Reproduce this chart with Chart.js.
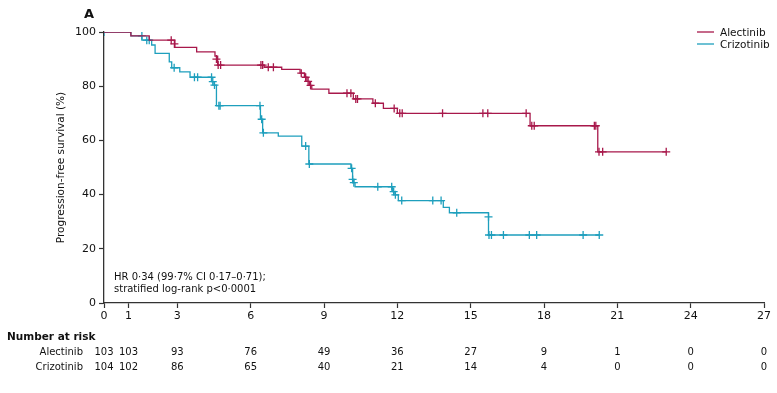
<!DOCTYPE html>
<html>
<head>
<meta charset="utf-8">
<script src="https://cdn.jsdelivr.net/npm/chart.js@4"></script>
<style>
  html, body { margin: 0; padding: 0; background: #fff; }
  #wrap { width: 777px; height: 393px; }
</style>
</head>
<body>
<div id="wrap"><canvas id="myChart" width="777" height="393"></canvas></div>
<script>
// Kaplan-Meier steps (months, % progression-free)
var alectinibTimes = [0, 1.1, 1.85, 2.9, 3.79, 4.54, 4.65, 6.55, 7.27, 8.02, 8.2, 8.3, 8.4, 8.5, 9.2, 10.2, 11.0, 11.43, 12.0, 17.43, 20.2, 23.0];
var alectinibSurv  = [100, 98.6, 97.0, 94.3, 92.7, 91.1, 87.8, 87.0, 86.2, 84.8, 83.3, 81.8, 80.3, 78.9, 77.4, 75.3, 73.7, 71.8, 70.0, 65.4, 55.8, 55.8];

var crizotinibTimes = [0, 1.1, 1.55, 1.95, 2.09, 2.67, 2.77, 3.1, 3.52, 4.4, 4.5, 4.6, 6.4, 6.49, 7.13, 8.09, 8.38, 10.1, 10.17, 10.22, 10.27, 11.8, 11.9, 12.04, 13.88, 14.13, 15.73, 20.26];
var crizotinibSurv  = [100, 98.6, 97.0, 95.2, 92.1, 89.0, 86.8, 85.3, 83.3, 81.7, 80.4, 72.8, 67.8, 62.8, 61.6, 57.9, 51.3, 49.7, 45.6, 44.4, 42.9, 41.1, 39.9, 37.8, 35.3, 33.3, 25.1, 25.1];

// censored observations
var alectinibCensorTimes = [2.75, 2.88, 4.6, 4.67, 4.77, 6.42, 6.49, 6.72, 6.93, 8.07, 8.25, 8.35, 8.45, 9.94, 10.1, 10.3, 10.37, 11.1, 11.87, 12.1, 12.2, 13.85, 15.5, 15.7, 17.27, 17.5, 17.6, 20.06, 20.12, 20.25, 20.4, 23.0];
var alectinibCensorSurv  = [97.0, 95.6, 90.0, 87.8, 87.8, 87.8, 87.8, 87.0, 87.0, 84.8, 83.3, 81.8, 80.3, 77.4, 77.4, 75.3, 75.3, 73.7, 71.8, 70.0, 70.0, 70.0, 70.0, 70.0, 70.0, 65.4, 65.4, 65.4, 65.4, 55.8, 55.8, 55.8];

var crizotinibCensorTimes = [0, 1.55, 1.75, 1.85, 2.87, 3.7, 3.83, 4.4, 4.45, 4.52, 4.7, 4.75, 6.38, 6.45, 6.52, 8.25, 8.4, 10.13, 10.17, 10.22, 11.2, 11.77, 11.85, 11.92, 12.18, 13.45, 13.79, 14.43, 15.73, 15.75, 15.85, 16.34, 17.4, 17.7, 19.6, 20.26];
var crizotinibCensorSurv  = [100, 98.6, 97.0, 97.0, 86.8, 83.3, 83.3, 83.3, 81.7, 80.4, 72.8, 72.8, 72.8, 67.8, 62.8, 57.9, 51.3, 49.7, 45.6, 44.4, 42.9, 42.9, 41.1, 39.9, 37.8, 37.8, 37.8, 33.3, 31.8, 25.1, 25.1, 25.1, 25.1, 25.1, 25.1, 25.1];

// number at risk table
var riskTimes = [0, 1, 3, 6, 9, 12, 15, 18, 21, 24, 27];
var alectinibRisk = [103, 103, 93, 76, 49, 36, 27, 9, 1, 0, 0];
var crizotinibRisk = [104, 102, 86, 65, 40, 21, 14, 4, 0, 0, 0];

var redCol = '#a8184b';
var cyanCol = '#1e9fbd';
var FONT = "'DejaVu Sans', sans-serif";

function pts(xs, ys) {
    var out = [];
    for (var i = 0; i < xs.length; i++) out.push({ x: xs[i], y: ys[i] });
    return out;
}

var extras = {
    id: 'extras',
    afterDraw: function (chart) {
        var ctx = chart.ctx;
        var xs = chart.scales.x;
        ctx.save();
        ctx.fillStyle = '#111';
        ctx.textBaseline = 'alphabetic';

        // panel letter
        ctx.font = 'bold 13px ' + FONT;
        ctx.textAlign = 'center';
        ctx.fillText('A', 89, 18);

        // HR annotation
        ctx.font = '10px ' + FONT;
        ctx.textAlign = 'left';
        ctx.fillText('HR 0·34 (99·7% CI 0·17–0·71);', 114, 279.5);
        ctx.fillText('stratified log-rank p<0·0001', 114, 292);

        // legend
        ctx.lineWidth = 1.3;
        ctx.strokeStyle = redCol;
        ctx.beginPath(); ctx.moveTo(697, 32); ctx.lineTo(714, 32); ctx.stroke();
        ctx.strokeStyle = cyanCol;
        ctx.beginPath(); ctx.moveTo(697, 44); ctx.lineTo(714, 44); ctx.stroke();
        ctx.font = '10.5px ' + FONT;
        ctx.fillText('Alectinib', 720, 36);
        ctx.fillText('Crizotinib', 720, 48);

        // number at risk
        ctx.font = 'bold 10.5px ' + FONT;
        ctx.fillText('Number at risk', 7, 340);
        ctx.font = '10px ' + FONT;
        ctx.textAlign = 'right';
        ctx.fillText('Alectinib', 83, 354.5);
        ctx.fillText('Crizotinib', 83, 369.5);
        ctx.textAlign = 'center';
        for (var i = 0; i < riskTimes.length; i++) {
            var px = xs.getPixelForValue(riskTimes[i]);
            ctx.fillText(String(alectinibRisk[i]), px, 354.5);
            ctx.fillText(String(crizotinibRisk[i]), px, 369.5);
        }
        ctx.restore();
    }
};

Chart.defaults.font.family = FONT;
Chart.defaults.color = '#111';

var config = {
    type: 'line',
    data: {
        datasets: [
            {
                label: 'Alectinib',
                data: pts(alectinibTimes, alectinibSurv),
                borderColor: redCol,
                borderWidth: 1.3,
                stepped: 'before',
                pointRadius: 0,
                fill: false
            },
            {
                label: 'Crizotinib',
                data: pts(crizotinibTimes, crizotinibSurv),
                borderColor: cyanCol,
                borderWidth: 1.3,
                stepped: 'before',
                pointRadius: 0,
                fill: false
            },
            {
                label: 'Alectinib censored',
                data: pts(alectinibCensorTimes, alectinibCensorSurv),
                showLine: false,
                pointStyle: 'cross',
                pointRadius: 4,
                pointBorderWidth: 1.3,
                borderColor: redCol,
                backgroundColor: redCol
            },
            {
                label: 'Crizotinib censored',
                data: pts(crizotinibCensorTimes, crizotinibCensorSurv),
                showLine: false,
                pointStyle: 'cross',
                pointRadius: 4,
                pointBorderWidth: 1.3,
                borderColor: cyanCol,
                backgroundColor: cyanCol
            }
        ]
    },
    options: {
        responsive: false,
        animation: false,
        layout: { padding: { left: 55, top: 32, right: 13, bottom: 68 } },
        plugins: {
            legend: { display: false },
            tooltip: { enabled: false }
        },
        scales: {
            x: {
                type: 'linear',
                min: 0,
                max: 27,
                afterBuildTicks: function (scale) {
                    scale.ticks = riskTimes.map(function (v) { return { value: v }; });
                },
                afterFit: function (scale) { scale.height = 22; },
                grid: { drawOnChartArea: false, tickLength: 5, color: '#333', tickWidth: 1.2 },
                border: { display: true, color: '#333', width: 1.3 },
                ticks: { font: { size: 11 }, padding: 2, maxRotation: 0, autoSkip: false }
            },
            y: {
                min: 0,
                max: 100,
                afterFit: function (scale) { scale.width = 49; },
                grid: { drawOnChartArea: false, tickLength: 5, color: '#333', tickWidth: 1.2 },
                border: { display: true, color: '#333', width: 1.3 },
                ticks: { stepSize: 20, font: { size: 11 }, padding: 3 },
                title: {
                    display: true,
                    text: 'Progression-free survival (%)',
                    font: { size: 10.5 },
                    padding: 0
                }
            }
        }
    },
    plugins: [extras]
};

var myChart = new Chart(document.getElementById('myChart'), config);
</script>
</body>
</html>
